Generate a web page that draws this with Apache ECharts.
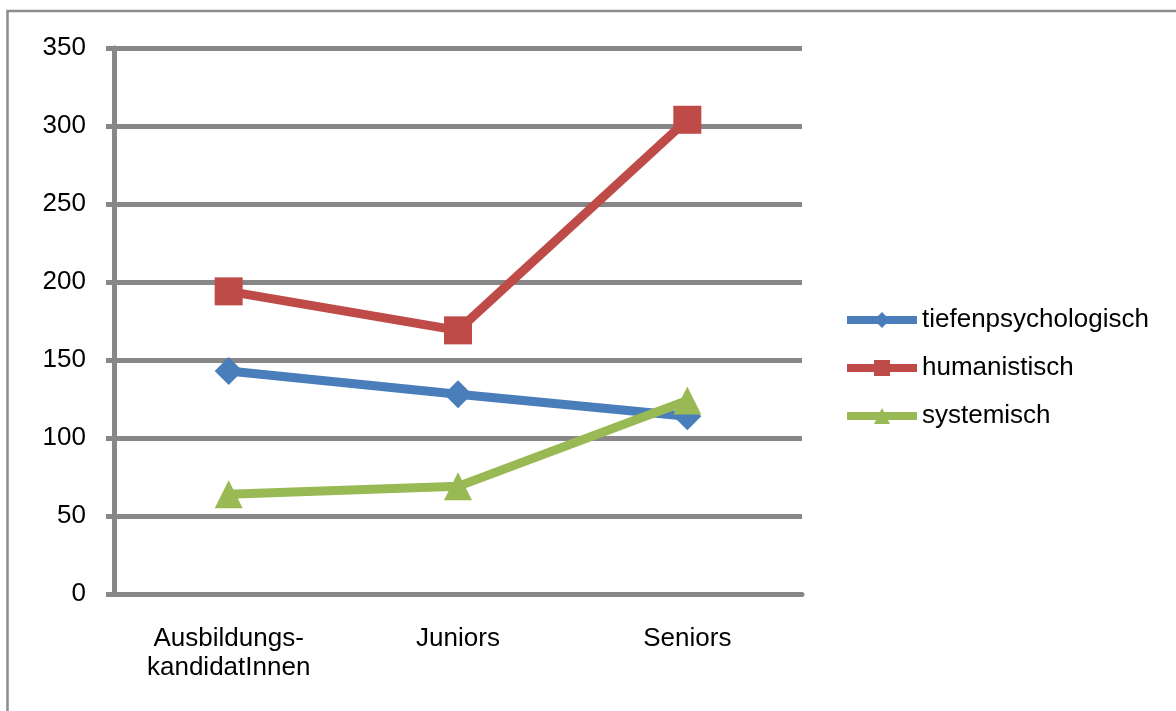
<!DOCTYPE html>
<html>
<head>
<meta charset="utf-8">
<script src="https://cdn.jsdelivr.net/npm/echarts@6/dist/echarts.min.js"></script>
<style>
    html, body { margin: 0; padding: 0; background: #fff; }
    #chart { width: 1176px; height: 711px; }
</style>
</head>
<body>
<div id="chart"></div>
<script>
// Data
const categories = ['Ausbildungs-\nkandidatInnen', 'Juniors', 'Seniors'];
const tiefenpsychologisch = [143, 128, 114];
const humanistisch = [194, 169, 304];
const systemisch = [64, 69, 124];
const seriesNames = ['tiefenpsychologisch', 'humanistisch', 'systemisch'];

const chart = echarts.init(document.getElementById('chart'));
const gridGray = '#878787';
const font = '"Liberation Sans", Arial, sans-serif';

const option = {
    animation: false,
    textStyle: { fontFamily: font },
    graphic: [{
        type: 'rect',
        shape: { x: 7.5, y: 11, width: 1200, height: 760 },
        style: { fill: 'none', stroke: '#8c8c8c', lineWidth: 2.5 },
        silent: true
    }],
    grid: { left: 114, right: 374, top: 48, bottom: 117 },
    legend: {
        orient: 'vertical',
        left: 838,
        top: 302,
        itemWidth: 70,
        itemHeight: 20,
        itemGap: 22,
        lineStyle: { width: 8 },
        textStyle: { fontSize: 26, color: '#000', fontFamily: font },
        data: seriesNames
    },
    xAxis: {
        type: 'category',
        data: categories,
        boundaryGap: true,
        axisLine: { lineStyle: { color: gridGray, width: 5 } },
        axisTick: { length: 8, lineStyle: { color: gridGray, width: 5 } },
        axisLabel: { fontSize: 26, color: '#000', margin: 30, lineHeight: 29, fontFamily: font }
    },
    yAxis: {
        type: 'value',
        min: 0,
        max: 350,
        interval: 50,
        axisLine: { show: true, lineStyle: { color: gridGray, width: 5 } },
        axisTick: { show: true, length: 8, lineStyle: { color: gridGray, width: 5 } },
        axisLabel: { fontSize: 26, color: '#000', margin: 28, fontFamily: font },
        splitLine: { lineStyle: { color: gridGray, width: 5 } }
    },
    series: [
        {
            name: seriesNames[0],
            type: 'line',
            data: tiefenpsychologisch,
            symbol: 'diamond',
            symbolSize: 28,
            lineStyle: { width: 9, color: '#4A7EBB' },
            itemStyle: { color: '#4A7EBB' }
        },
        {
            name: seriesNames[1],
            type: 'line',
            data: humanistisch,
            symbol: 'rect',
            symbolSize: 28,
            lineStyle: { width: 9, color: '#BE4B48' },
            itemStyle: { color: '#BE4B48' }
        },
        {
            name: seriesNames[2],
            type: 'line',
            data: systemisch,
            symbol: 'triangle',
            symbolSize: 28,
            lineStyle: { width: 9, color: '#98B954' },
            itemStyle: { color: '#98B954' }
        }
    ]
};

chart.setOption(option);
</script>
</body>
</html>
